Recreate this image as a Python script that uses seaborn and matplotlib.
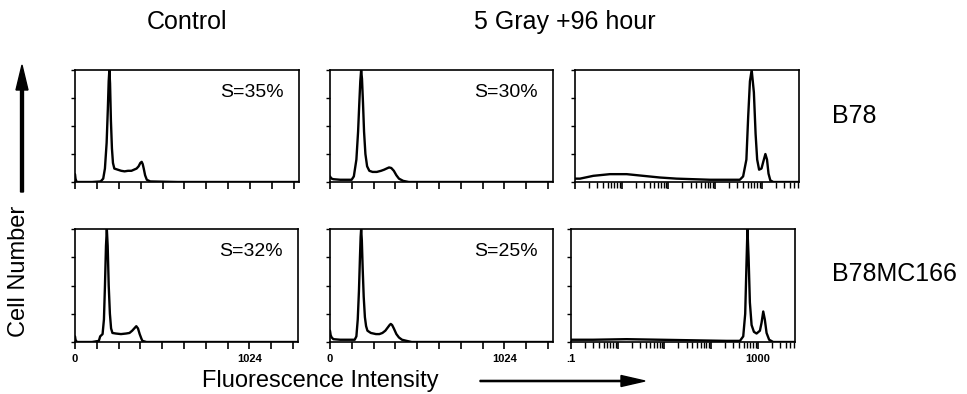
import numpy as np
import pandas as pd
import matplotlib
matplotlib.use("Agg")
import matplotlib.pyplot as plt
import seaborn as sns

sns.set_style("ticks")
plt.rcParams['font.family'] = ['Liberation Sans', 'DejaVu Sans']
plt.rcParams['text.color'] = 'black'
plt.rcParams['xtick.color'] = 'black'
plt.rcParams['ytick.color'] = 'black'

# ---------------- data ----------------
col_titles = ["Control", "5 Gray +96 hour"]
row_labels = ["B78", "B78MC166"]
s_labels = ["S=35%", "S=30%", "S=32%", "S=25%"]

# B78 control (linear channels)
b78_ctrl_x = [0, 3, 8, 15, 100, 150, 165, 175, 185, 192, 197, 201, 205, 210, 216, 222, 230, 250,
              270, 290, 310, 330, 345, 360, 372, 382, 390, 396, 402, 410, 420, 440, 600, 1310]
b78_ctrl_y = [0.07, 0.03, 0.005, 0, 0, 0.005, 0.03, 0.12, 0.35, 0.65, 0.9, 1.0, 0.88, 0.55, 0.3, 0.17,
              0.12, 0.11, 0.1, 0.095, 0.1, 0.1, 0.11, 0.12, 0.14, 0.17, 0.18, 0.16, 0.12, 0.06, 0.02,
              0.005, 0, 0]

# B78 5 Gy +96 h (linear channels)
b78_irr_x = [0, 4, 10, 20, 60, 110, 127, 140, 155, 165, 172, 178, 183, 188, 194, 200, 208, 218, 231,
             250, 275, 300, 318, 332, 347, 360, 375, 390, 405, 430, 463, 600, 1310]
b78_irr_y = [0.05, 0.04, 0.03, 0.025, 0.02, 0.02, 0.02, 0.05, 0.2, 0.45, 0.7, 0.9, 1.0, 0.92, 0.7,
             0.45, 0.25, 0.14, 0.1, 0.09, 0.09, 0.1, 0.11, 0.12, 0.13, 0.125, 0.1, 0.06, 0.03, 0.01,
             0, 0, 0]

# B78MC166 control (linear channels)
mc_ctrl_x = [0, 3, 8, 15, 100, 140, 148, 155, 162, 170, 176, 182, 187, 192, 198, 205, 212, 220, 240,
             270, 300, 320, 336, 348, 360, 370, 380, 390, 396, 420, 600, 1310]
mc_ctrl_y = [0.05, 0.02, 0.005, 0, 0, 0.01, 0.05, 0.06, 0.07, 0.2, 0.5, 0.85, 1.0, 0.85, 0.5, 0.25,
             0.12, 0.08, 0.075, 0.07, 0.075, 0.08, 0.1, 0.12, 0.14, 0.12, 0.07, 0.03, 0.01, 0, 0, 0]

# B78MC166 5 Gy +96 h (linear channels)
mc_irr_x = [0, 4, 10, 20, 60, 110, 145, 155, 163, 170, 176, 180, 183, 187, 192, 198, 205, 212, 220,
            240, 270, 290, 308, 325, 340, 350, 357, 365, 375, 390, 405, 423, 450, 480, 600, 1310]
mc_irr_y = [0.1, 0.06, 0.04, 0.025, 0.02, 0.02, 0.02, 0.05, 0.2, 0.45, 0.75, 0.93, 1.0, 0.9, 0.65,
            0.4, 0.22, 0.14, 0.1, 0.08, 0.07, 0.07, 0.08, 0.1, 0.13, 0.15, 0.16, 0.15, 0.12, 0.07,
            0.04, 0.02, 0.01, 0, 0, 0]

# B78 5 Gy +96 h (log fluorescence)
b78_log_x = [0.1, 0.128, 0.246, 0.56, 1.28, 2.9, 6.6, 15, 34, 78, 178, 340, 400, 470, 513, 560, 610,
             680, 740, 800, 880, 990, 1080, 1200, 1300, 1400, 1530, 1770, 2460, 6300]
b78_log_y = [0.03, 0.03, 0.055, 0.07, 0.07, 0.055, 0.04, 0.03, 0.025, 0.02, 0.02, 0.02, 0.05, 0.2,
             0.58, 0.9, 1.0, 0.8, 0.43, 0.2, 0.11, 0.12, 0.18, 0.25, 0.2, 0.075, 0.015, 0, 0, 0]

# B78MC166 5 Gy +96 h (log fluorescence)
mc_log_x = [0.1, 0.3, 1.55, 8.05, 41.5, 215, 417, 490, 540, 576, 603, 638, 680, 740, 830, 946, 1115,
            1210, 1315, 1420, 1550, 1760, 2150, 6300]
mc_log_y = [0.02, 0.02, 0.025, 0.02, 0.015, 0.01, 0.01, 0.05, 0.25, 0.7, 1.0, 0.75, 0.35, 0.15, 0.09,
            0.075, 0.1, 0.17, 0.27, 0.2, 0.08, 0.02, 0, 0]

lin_ticks = [0, 128, 256, 384, 512, 640, 768, 896, 1024, 1152, 1280]
lin_ticklabels = ["0", "", "", "", "", "", "", "", "1024", "", ""]
log_ticks = [0.1, 1, 10, 100, 1000]
log_ticklabels = [".1", "", "", "", "1000"]

# ---------------- figure ----------------
W, H = 967, 394
fig = plt.figure(figsize=(W / 100, H / 100), dpi=100)


def add_ax(l, t, r, b):
    return fig.add_axes([l / W, 1 - b / H, (r - l) / W, (b - t) / H])


panels = [
    ((75, 70, 299, 182), b78_ctrl_x, b78_ctrl_y, "lin", s_labels[0], False),
    ((330, 70, 553, 182), b78_irr_x, b78_irr_y, "lin", s_labels[1], False),
    ((575, 70, 799, 182), b78_log_x, b78_log_y, "log", None, False),
    ((75, 229, 298, 342), mc_ctrl_x, mc_ctrl_y, "lin", s_labels[2], True),
    ((330, 229, 553, 342), mc_irr_x, mc_irr_y, "lin", s_labels[3], True),
    ((571, 229, 795, 342), mc_log_x, mc_log_y, "log", None, True),
]

for box, xs, ys, kind, slab, showlab in panels:
    ax = add_ax(*box)
    df = pd.DataFrame({"x": xs, "y": ys})
    sns.lineplot(data=df, x="x", y="y", ax=ax, color="black", linewidth=1.7,
                 estimator=None, sort=False)
    ax.set_ylim(0, 1.0)
    if kind == "lin":
        ax.set_xlim(0, 1310)
        ax.set_xticks(lin_ticks)
        ax.set_xticklabels(lin_ticklabels if showlab else [""] * len(lin_ticks))
    else:
        ax.set_xscale("log")
        ax.set_xlim(0.1, 6300)
        ax.set_xticks(log_ticks)
        ax.set_xticklabels(log_ticklabels if showlab else [""] * len(log_ticks))
        ax.tick_params(axis="x", which="minor", direction="out", length=4, width=1, color="black")
        ax.xaxis.set_minor_formatter(matplotlib.ticker.NullFormatter())
    ax.set_yticks([0, 0.25, 0.5, 0.75, 1.0])
    ax.set_yticklabels([])
    ax.tick_params(axis="x", which="major", direction="out", length=5, width=1.2, color="black",
                   labelsize=8, pad=4, labelcolor="black")
    ax.tick_params(axis="y", direction="out", length=3, width=1, color="black")
    for lab in ax.get_xticklabels():
        lab.set_fontweight("bold")
    ax.set_xlabel("")
    ax.set_ylabel("")
    for sp in ax.spines.values():
        sp.set_visible(True)
        sp.set_linewidth(1.2)
        sp.set_color("black")
    if slab:
        ax.text(0.933, 0.80, slab, transform=ax.transAxes, ha="right", va="center", fontsize=14,
                color="black")

# titles and labels
fig.text(187 / W, 1 - 22 / H, col_titles[0], ha="center", va="center", fontsize=18, color="black")
fig.text(565 / W, 1 - 22 / H, col_titles[1], ha="center", va="center", fontsize=18, color="black")
fig.text(832 / W, 1 - 116 / H, row_labels[0], ha="left", va="center", fontsize=18, color="black")
fig.text(832 / W, 1 - 274 / H, row_labels[1], ha="left", va="center", fontsize=18, color="black")
fig.text(19 / W, 1 - 271 / H, "Cell Number", ha="center", va="center", rotation=90, fontsize=17,
         color="black")
fig.text(320 / W, 1 - 381 / H, "Fluorescence Intensity", ha="center", va="center", fontsize=17,
         color="black")

# arrows
fig.add_artist(matplotlib.patches.FancyArrow(
    22 / W, 1 - 192 / H, 0, (192 - 65) / H, width=1.2 / H, head_width=12 / W,
    head_length=25 / H, length_includes_head=True, color="black", transform=fig.transFigure))
fig.add_artist(matplotlib.patches.FancyArrow(
    480 / W, 1 - 381 / H, (645 - 480) / W, 0, width=1.2 / H, head_width=11 / H,
    head_length=24 / W, length_includes_head=True, color="black", transform=fig.transFigure))

fig.savefig("out.png", dpi=100)
